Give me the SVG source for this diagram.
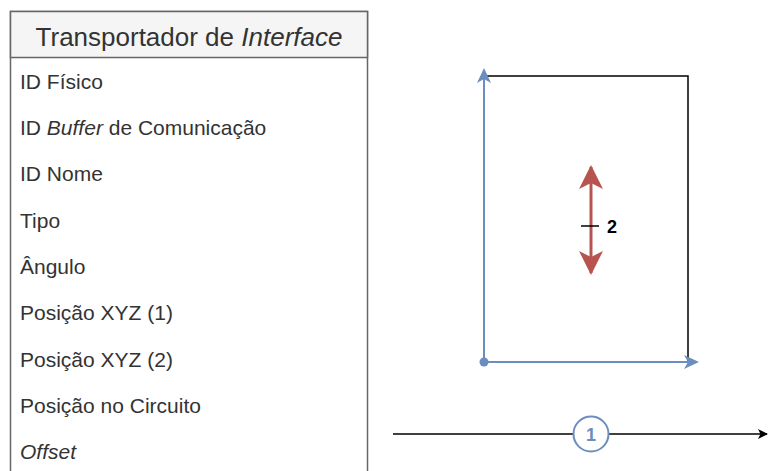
<svg xmlns="http://www.w3.org/2000/svg" width="768" height="471" viewBox="0 0 768 471">
<defs>
<style>
.row{font-family:"Liberation Sans",Arial,sans-serif;font-size:21px;fill:#333}
.blue{stroke:#6c8ebf;stroke-width:2;fill:none}
</style>
<marker id="ab" markerWidth="15" markerHeight="14" refX="13" refY="7" orient="auto" markerUnits="userSpaceOnUse"><path d="M0,0 L15,7 L0,14 L4,7 Z" fill="#6c8ebf"/></marker>
<marker id="ak" markerWidth="10" markerHeight="10" refX="9" refY="5" orient="auto" markerUnits="userSpaceOnUse"><path d="M0,0 L10,5 L0,10 L2.5,5 Z" fill="#000"/></marker>
<marker id="ar" markerWidth="24" markerHeight="24" refX="22" refY="12" orient="auto" markerUnits="userSpaceOnUse"><path d="M0,0 L24,12 L0,24 L6,12 Z" fill="#b85450"/></marker>
</defs>
<rect width="768" height="471" fill="#fff"/>
<g id="table">
<rect x="10.5" y="11.5" width="357" height="470" fill="#fff" stroke="#666" stroke-width="1.5"/>
<rect x="10.5" y="11.5" width="357" height="46" fill="#f5f5f5" stroke="#666" stroke-width="1.5"/>
<text x="189" y="46" text-anchor="middle" style="font-family:'Liberation Sans',Arial,sans-serif;font-size:26px;fill:#333">Transportador de <tspan font-style="italic">Interface</tspan></text>
<text class="row" x="20" y="88.5">ID Físico</text>
<text class="row" x="20" y="135">ID <tspan font-style="italic">Buffer</tspan> de Comunicação</text>
<text class="row" x="20" y="181">ID Nome</text>
<text class="row" x="20" y="227.5">Tipo</text>
<text class="row" x="20" y="274">Ângulo</text>
<text class="row" x="20" y="320">Posição XYZ (1)</text>
<text class="row" x="20" y="366.5">Posição XYZ (2)</text>
<text class="row" x="20" y="413">Posição no Circuito</text>
<text class="row" x="20" y="459" font-style="italic">Offset</text>
</g>
<g id="frame">
<path d="M484,76 H688 V362" fill="none" stroke="#000" stroke-width="1.5"/>
</g>
<g id="connectors">
<line class="blue" x1="484" y1="362" x2="484" y2="70" marker-end="url(#ab)"/>
<line class="blue" x1="484" y1="362" x2="697" y2="362" marker-end="url(#ab)"/>
<circle cx="484" cy="362" r="4.5" fill="#6c8ebf"/>
<line x1="591" y1="220" x2="591" y2="167" stroke="#b85450" stroke-width="3" marker-end="url(#ar)"/>
<line x1="591" y1="220" x2="591" y2="273" stroke="#b85450" stroke-width="3" marker-end="url(#ar)"/>
<line x1="581" y1="226" x2="599" y2="226" stroke="#000" stroke-width="1.5"/>
<line x1="393" y1="434" x2="767" y2="434" stroke="#000" stroke-width="1.5" marker-end="url(#ak)"/>
</g>
<g id="label2">
<text x="607" y="233" style="font-family:'Liberation Sans',Arial,sans-serif;font-size:18px;font-weight:bold;fill:#000">2</text>
</g>
<g id="marker1">
<circle cx="591" cy="434" r="17.5" fill="#fff" stroke="#6c8ebf" stroke-width="2"/>
<text x="591" y="440.5" text-anchor="middle" style="font-family:'Liberation Sans',Arial,sans-serif;font-size:18px;font-weight:bold;fill:#6c8ebf">1</text>
</g>
</svg>
